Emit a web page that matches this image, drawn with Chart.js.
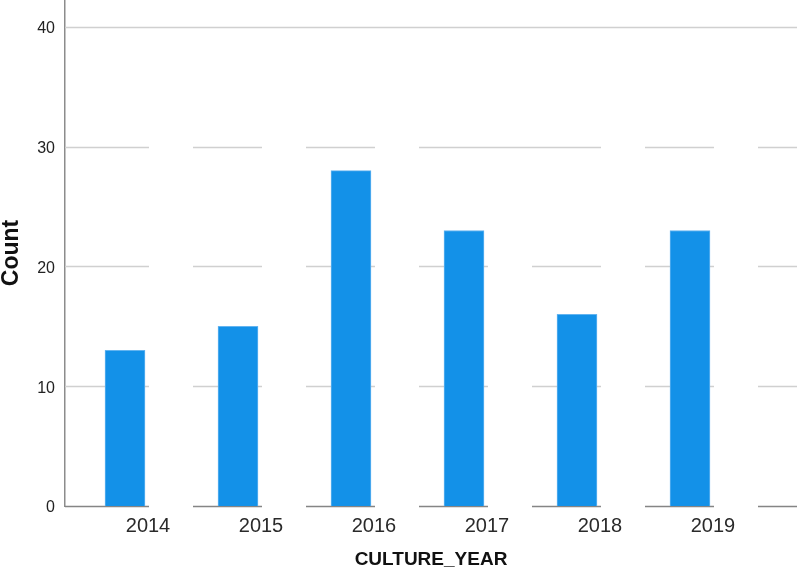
<!DOCTYPE html>
<html>
<head>
<meta charset="utf-8">
<script src="https://cdn.jsdelivr.net/npm/chart.js@4/dist/chart.umd.min.js"></script>
<style>
  html, body { margin: 0; padding: 0; background: #fff; }
  #wrap { width: 797px; height: 571px; }
</style>
</head>
<body>
<div id="wrap"><canvas id="chart" width="797" height="571"></canvas></div>
<script>
const years = [2014, 2015, 2016, 2017, 2018, 2019];
const counts = [13, 15, 28, 23, 16, 23];
const yTicks = [0, 10, 20, 30, 40];

// SPSS style grid: lines broken next to each bar, top line whole
const splitGrid = {
  id: "splitGrid",
  beforeDatasetsDraw(chart) {
    const { ctx, chartArea, scales } = chart;
    const bars = chart.getDatasetMeta(0).data;
    ctx.save();
    ctx.lineWidth = 1.5;
    yTicks.forEach(v => {
      const py = Math.round(scales.y.getPixelForValue(v)) + 0.5;
      ctx.strokeStyle = v === 0 ? "#858585" : "#d0d0d0";
      let gaps = [];
      if (v !== yTicks[yTicks.length - 1]) {
        bars.forEach((b, i) => {
          if (v === 30 && i === 3) return;
          const gs = b.x + b.width / 2 + 4;
          gaps.push([gs, gs + 44]);
        });
      }
      let x = chartArea.left;
      ctx.beginPath();
      gaps.forEach(g => {
        ctx.moveTo(x, py);
        ctx.lineTo(g[0], py);
        x = g[1];
      });
      ctx.moveTo(x, py);
      ctx.lineTo(chartArea.right, py);
      ctx.stroke();
    });
    ctx.restore();
  }
};

new Chart(document.getElementById("chart"), {
  type: "bar",
  data: {
    datasets: [{
      data: years.map((y, i) => ({ x: y, y: counts[i] })),
      backgroundColor: "#1391e8",
      borderColor: "#63b4f0",
      borderWidth: 1,
      barThickness: 40
    }]
  },
  options: {
    responsive: false,
    animation: false,
    layout: { padding: 0 },
    plugins: { legend: { display: false }, tooltip: { enabled: false } },
    scales: {
      x: {
        type: "linear",
        offset: false,
        bounds: "data",
        min: 2013.469,
        max: 2019.947,
        grid: { display: false, offset: false },
        border: { display: false },
        afterBuildTicks: s => { s.ticks = years.map(v => ({ value: v })); },
        afterFit: s => { s.height = 65; s.paddingLeft = 0; s.paddingRight = 0; },
        ticks: {
          callback: v => String(v),
          labelOffset: 23,
          padding: 0,
          maxRotation: 0,
          autoSkip: false,
          color: "#2a2a2a",
          font: { family: "'Liberation Sans', Arial, sans-serif", size: 20 }
        },
        title: {
          display: true,
          text: "CULTURE_YEAR",
          color: "#111",
          padding: { top: 0, bottom: 0 },
          font: { family: "'Liberation Sans', Arial, sans-serif", size: 19, weight: "bold" }
        }
      },
      y: {
        min: 0,
        max: 42.25,
        bounds: "data",
        grid: { display: false },
        border: { display: true, color: "#8c8c8c", width: 1.5 },
        afterBuildTicks: s => { s.ticks = yTicks.map(v => ({ value: v })); },
        afterFit: s => { s.width = 65; s.paddingTop = 0; s.paddingBottom = 0; },
        ticks: {
          padding: 2,
          labelOffset: 2,
          color: "#222",
          font: { family: "'Liberation Sans', Arial, sans-serif", size: 16 }
        },
        title: {
          display: true,
          text: "Count",
          color: "#111",
          padding: 0,
          font: { family: "'Liberation Sans', Arial, sans-serif", size: 23, weight: "bold", lineHeight: 1.05 }
        }
      }
    }
  },
  plugins: [splitGrid]
});
</script>
</body>
</html>
